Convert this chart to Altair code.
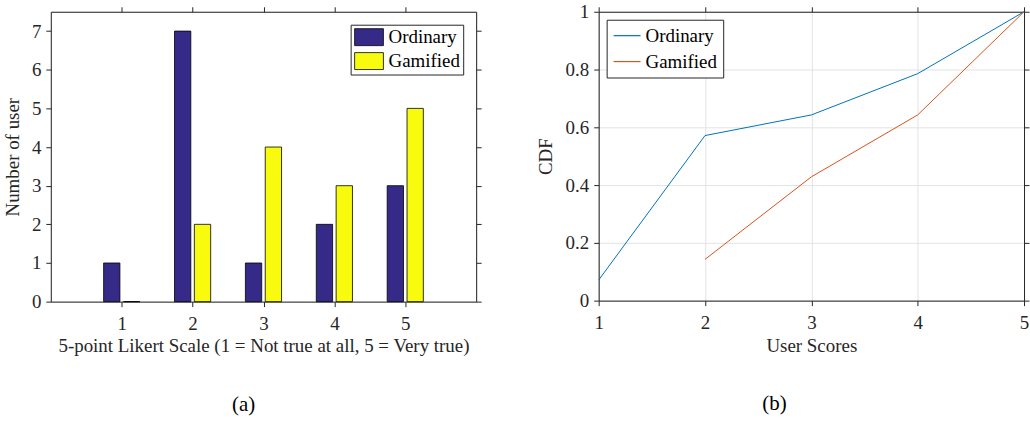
import altair as alt
import pandas as pd

# ---- data ----
scores = [1, 2, 3, 4, 5]
series = ["Ordinary", "Gamified"]
ordinary_counts = [1, 7, 1, 2, 3]
gamified_counts = [0, 2, 4, 3, 5]
ordinary_cdf = [0.0714, 0.5714, 0.6429, 0.7857, 1.0]
gamified_cdf = [None, 0.1429, 0.4286, 0.6429, 1.0]
x_ticks = [1, 2, 3, 4, 5]
count_ticks = [0, 1, 2, 3, 4, 5, 6, 7]
cdf_ticks = [0, 0.2, 0.4, 0.6, 0.8, 1.0]
bar_colors = ["#352A87", "#F9FB0E"]
line_colors = ["#0072BD", "#D95319"]

bar_df = pd.DataFrame(
    {
        "score": scores * 2,
        "count": ordinary_counts + gamified_counts,
        "series": [series[0]] * 5 + [series[1]] * 5,
    }
)
line_df = pd.DataFrame(
    {
        "score": scores * 2,
        "cdf": ordinary_cdf + gamified_cdf,
        "series": [series[0]] * 5 + [series[1]] * 5,
    }
).dropna()

FONT = "Liberation Serif"
TXT = "#262626"
FS = 19

common_axis = dict(
    labelFont=FONT,
    labelFontSize=FS,
    labelColor=TXT,
    labelFlush=False,
    titleFont=FONT,
    titleFontSize=FS,
    titleColor=TXT,
    titleFontWeight="normal",
    domainColor=TXT,
    tickColor=TXT,
    tickSize=5,
    domainWidth=1,
    tickWidth=1,
)

mirror_axis = dict(
    labels=False,
    title=None,
    domainColor=TXT,
    tickColor=TXT,
    tickSize=5,
    grid=False,
)

# ---------------- (a) bar chart ----------------
xs_bar = alt.Scale(domain=[0, 6], nice=False, zero=False)
ys_bar = alt.Scale(domain=[0, 7.5], nice=False)

bars = (
    alt.Chart(bar_df)
    .transform_calculate(
        x0="datum.score + (datum.series == 'Ordinary' ? -0.255 : 0.025)",
        x1="datum.score + (datum.series == 'Ordinary' ? -0.025 : 0.255)",
    )
    .mark_bar(stroke="#000000", strokeWidth=0.8)
    .encode(
        x=alt.X(
            "x0:Q",
            scale=xs_bar,
            axis=alt.Axis(
                values=x_ticks,
                grid=False,
                title="5-point Likert Scale (1 = Not true at all, 5 = Very true)",
                labelPadding=8,
                titlePadding=3,
                **common_axis,
            ),
        ),
        x2="x1:Q",
        y=alt.Y(
            "count:Q",
            scale=ys_bar,
            axis=alt.Axis(
                values=count_ticks,
                grid=False,
                title="Number of user",
                labelPadding=5,
                titlePadding=9,
                **common_axis,
            ),
        ),
        y2=alt.datum(0),
        color=alt.Color(
            "series:N",
            scale=alt.Scale(domain=series, range=bar_colors),
            legend=alt.Legend(
                title=None,
                orient="top-right",
                offset=13,
                strokeColor=TXT,
                fillColor="#FFFFFF",
                padding=3,
                rowPadding=3,
                labelFont=FONT,
                labelFontSize=FS,
                labelColor="#000000",
                symbolType="M-1,-1H2.4V1H-1Z",
                symbolSize=289,
                symbolStrokeColor="#000000",
                symbolStrokeWidth=0.8,
                symbolOpacity=1,
                labelOffset=16,
            ),
        ),
    )
)

bar_mirror = (
    alt.Chart(bar_df)
    .mark_point(opacity=0)
    .encode(
        x=alt.X("score:Q", scale=xs_bar, axis=alt.Axis(orient="top", values=x_ticks, **mirror_axis)),
        y=alt.Y("count:Q", scale=ys_bar, axis=alt.Axis(orient="right", values=count_ticks, **mirror_axis)),
    )
)

left = (
    alt.layer(bars, bar_mirror)
    .resolve_axis(x="independent", y="independent")
    .properties(
        width=427,
        height=291,
        title=alt.TitleParams(
            "(a)",
            orient="bottom",
            anchor="middle",
            frame="group",
            dx=-20,
            font=FONT,
            fontSize=21,
            fontWeight="normal",
            color="#000000",
            offset=39,
        ),
    )
)

# ---------------- (b) CDF chart ----------------
xs_line = alt.Scale(domain=[1, 5], nice=False, zero=False)
ys_line = alt.Scale(domain=[0, 1], nice=False)

grid_style = dict(grid=True, gridColor="#E3E3E3", gridWidth=1)

lines = (
    alt.Chart(line_df)
    .mark_line(strokeWidth=1)
    .encode(
        x=alt.X(
            "score:Q",
            scale=xs_line,
            axis=alt.Axis(values=x_ticks, title="User Scores", labelPadding=8, titlePadding=4, **grid_style, **common_axis),
        ),
        y=alt.Y(
            "cdf:Q",
            scale=ys_line,
            axis=alt.Axis(
                values=cdf_ticks, format="~g", title="CDF", labelPadding=5, titlePadding=10, **grid_style, **common_axis
            ),
        ),
        color=alt.Color(
            "series:N",
            scale=alt.Scale(domain=series, range=line_colors),
            legend=alt.Legend(
                title=None,
                orient="top-left",
                offset=8,
                strokeColor=TXT,
                fillColor="#FFFFFF",
                padding=6,
                rowPadding=6,
                labelFont=FONT,
                labelFontSize=FS,
                labelColor="#000000",
                symbolType="M-1,0H2",
                symbolSize=324,
                symbolStrokeWidth=1.2,
                labelOffset=13,
            ),
        ),
    )
)

line_mirror = (
    alt.Chart(line_df)
    .mark_point(opacity=0)
    .encode(
        x=alt.X("score:Q", scale=xs_line, axis=alt.Axis(orient="top", values=x_ticks, **mirror_axis)),
        y=alt.Y("cdf:Q", scale=ys_line, axis=alt.Axis(orient="right", values=cdf_ticks, **mirror_axis)),
    )
)

right = (
    alt.layer(lines, line_mirror)
    .resolve_axis(x="independent", y="independent")
    .properties(
        width=427,
        height=290,
        title=alt.TitleParams(
            "(b)",
            orient="bottom",
            anchor="middle",
            frame="group",
            dx=-37,
            font=FONT,
            fontSize=21,
            fontWeight="normal",
            color="#000000",
            offset=38,
        ),
    )
)

chart = (
    alt.hconcat(left, right, spacing=53)
    .resolve_scale(color="independent")
    .resolve_legend(color="independent")
    .properties(padding={"left": 3, "top": 1, "right": 0, "bottom": 0})
    .configure_view(stroke=None)
    .configure(background="#FFFFFF")
)

chart.save("out.html", embed_options={"renderer": "svg", "actions": False})
